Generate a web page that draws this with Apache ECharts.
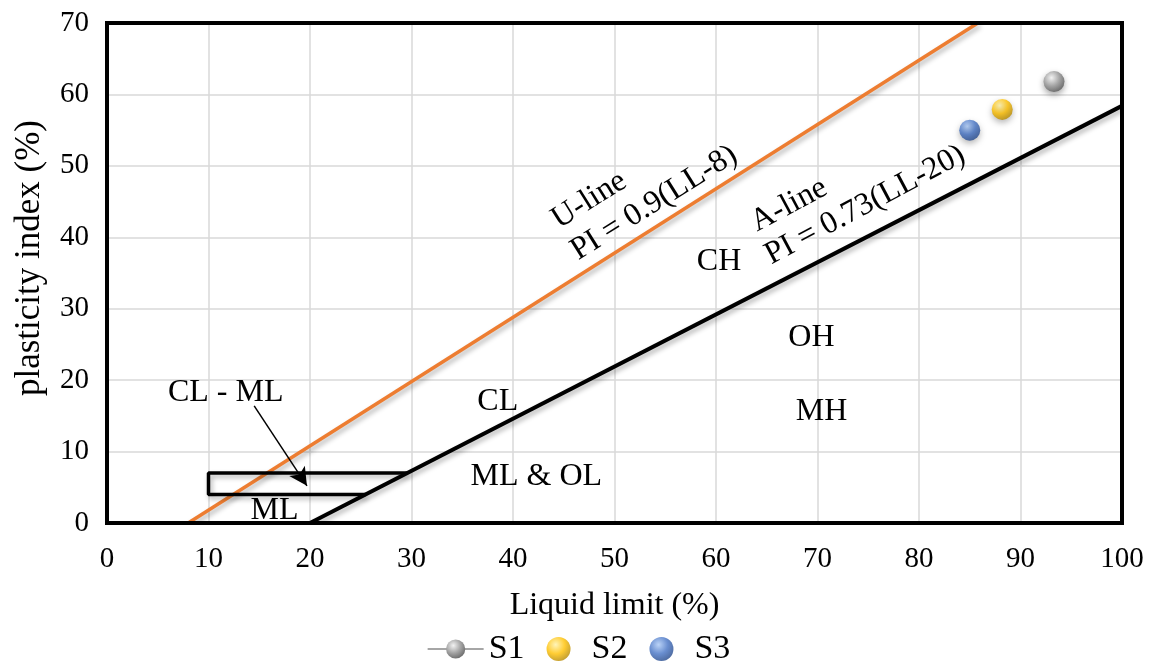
<!DOCTYPE html>
<html>
<head>
<meta charset="utf-8">
<script src="https://cdn.jsdelivr.net/npm/echarts@6.0.0/dist/echarts.min.js"></script>
<style>
html,body{margin:0;padding:0;background:#fff;}
#main{width:1157px;height:666px;}
</style>
</head>
<body>
<div id="main"></div>
<script>
// samples (LL, PI)
let s1=[[93.3,61.8]];
let s2=[[88.2,57.9]];
let s3=[[85.0,55.0]];
// chart lines
let uLine=[[8,0],[85.8,70]];
let aLine=[[20,0],[100,58.4]];
let mlBox=[[29.6,7],[10,7],[10,4],[25.5,4]];
let xTicks=[0,10,20,30,40,50,60,70,80,90,100];
let yTicks=[0,10,20,30,40,50,60,70];
// zone names and line names (text, LL, PI, rotation)
let zoneNames=["CH","OH","MH","CL","ML & OL","CL - ML","ML"];
let zoneAt=[[60.3,36.6],[69.4,25.9],[70.4,15.6],[38.5,17],[42.3,6.5],[11.7,18.3],[16.5,1.7]];
let lineNames=["U-line","PI = 0.9(LL-8)","A-line","PI = 0.73(LL-20)"];
let lineNameAt=[[47.5,45.2],[53.9,44.8],[67.2,44.5],[74.7,44.5]];
let lineNameRot=[32,32,28,28];

let font="Liberation Serif";
function ball(c1,c2,c3){
	return {type:"radial",x:0.38,y:0.32,r:0.7,colorStops:[
		{offset:0,color:c1},{offset:0.55,color:c2},{offset:1,color:c3}
	]};
}
let shadow={shadowColor:"rgba(0,0,0,0.3)",shadowBlur:5,shadowOffsetX:2,shadowOffsetY:3};

let textRows=[];
zoneNames.forEach(function(n,i){
	textRows.push([zoneAt[i][0],zoneAt[i][1],0,n]);
});
lineNames.forEach(function(n,i){
	textRows.push([lineNameAt[i][0],lineNameAt[i][1],lineNameRot[i],n]);
});

function drawText(params,api){
	let p=api.coord([api.value(0),api.value(1)]);
	return {
		type:"text",
		x:p[0],y:p[1],
		rotation:api.value(2)*Math.PI/180,
		style:{
			text:textRows[params.dataIndex][3],
			font:"32px '"+font+"'",
			fill:"#000",
			align:"center",
			verticalAlign:"middle"
		}
	};
}

var myChart=echarts.init(document.querySelector("#main"));
let option={
	animation:false,
	textStyle:{fontFamily:font,color:"#000"},
	grid:{left:107,right:35,top:23,bottom:143,show:true,borderColor:"#000",borderWidth:4,z:5},
	legend:{
		data:["S1","S2","S3"],
		top:627,
		left:"center",
		itemWidth:56,
		itemHeight:24,
		itemGap:22,
		textStyle:{fontFamily:font,fontSize:34,color:"#000"}
	},
	xAxis:{
		type:"value",min:0,max:100,interval:10,
		name:"Liquid limit (%)",nameLocation:"middle",nameGap:67,
		nameTextStyle:{fontFamily:font,fontSize:32,color:"#000"},
		axisLine:{show:false},axisTick:{show:false},
		axisLabel:{fontFamily:font,fontSize:29,color:"#000",margin:22},
		splitLine:{lineStyle:{color:"#d9d9d9",width:1.5}}
	},
	yAxis:{
		type:"value",min:0,max:70,interval:10,
		name:"plasticity index (%)",nameLocation:"middle",nameGap:60,nameRotate:90,
		nameTextStyle:{fontFamily:font,fontSize:35,color:"#000",padding:[0,0,0,30]},
		axisLine:{show:false},axisTick:{show:false},
		axisLabel:{fontFamily:font,fontSize:29,color:"#000",margin:18},
		splitLine:{lineStyle:{color:"#d9d9d9",width:1.5}}
	},
	series:[
		{
			name:"U-line",type:"line",data:uLine,symbol:"none",silent:true,
			lineStyle:Object.assign({color:"#ED7D31",width:3.5},shadow)
		},
		{
			name:"A-line",type:"line",data:aLine,symbol:"none",silent:true,
			lineStyle:Object.assign({color:"#000",width:4},shadow)
		},
		{
			name:"ML box",type:"line",data:mlBox,symbol:"none",silent:true,
			lineStyle:Object.assign({color:"#000",width:3.5},shadow),
			markLine:{
				silent:true,
				symbol:["none","arrow"],
				symbolSize:[14,18],
				label:{show:false},
				lineStyle:{color:"#000",width:1.5,type:"solid"},
				data:[[{coord:[14.5,16.4]},{coord:[19.7,5.2]}]]
			}
		},
		{
			name:"texts",type:"custom",silent:true,z:6,
			data:textRows.map(function(r){return [r[0],r[1],r[2]];}),
			encode:{x:0,y:1},
			renderItem:drawText
		},
		{
			name:"S1",type:"line",data:s1,symbol:"circle",symbolSize:21,z:10,
			lineStyle:{color:"#a6a6a6",width:2},
			itemStyle:{color:ball("#f2f2f2","#a5a5a5","#6e6e6e"),shadowColor:"rgba(0,0,0,0.35)",shadowBlur:6,shadowOffsetY:3}
		},
		{
			name:"S2",type:"scatter",data:s2,symbol:"circle",symbolSize:21,z:10,
			itemStyle:{color:ball("#fff2a8","#ffc000","#b88a00"),shadowColor:"rgba(0,0,0,0.35)",shadowBlur:6,shadowOffsetY:3}
		},
		{
			name:"S3",type:"scatter",data:s3,symbol:"circle",symbolSize:21,z:10,
			itemStyle:{color:ball("#a9c8f5","#4472c4","#24498c"),shadowColor:"rgba(0,0,0,0.35)",shadowBlur:6,shadowOffsetY:3}
		}
	]
};
myChart.setOption(option);
</script>
</body>
</html>
